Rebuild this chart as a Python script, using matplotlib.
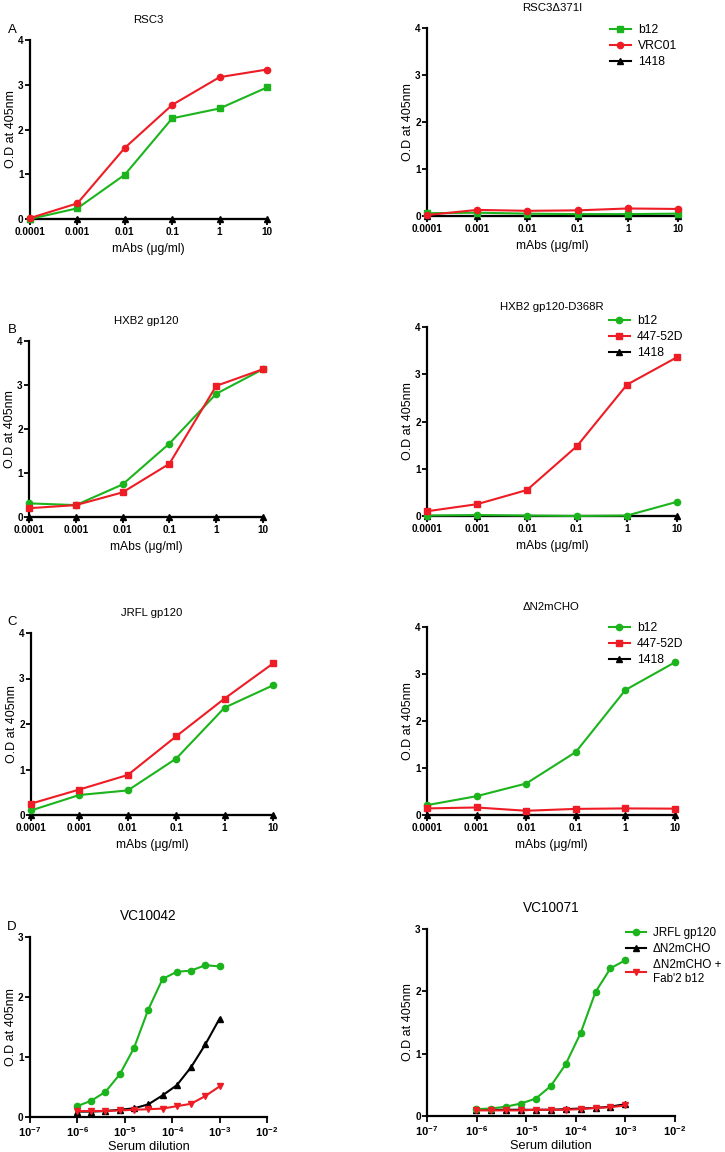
"""ELISA binding curves: mAbs and sera against RSC3 / gp120 variants."""
import numpy as np
import matplotlib
matplotlib.use("Agg")
from matplotlib import pyplot as plt
from matplotlib.ticker import FixedLocator, FuncFormatter, NullLocator

plt.rcParams["font.family"] = ["Liberation Sans", "DejaVu Sans"]
plt.rcParams["font.weight"] = "bold"
plt.rcParams["mathtext.fontset"] = "custom"
plt.rcParams["mathtext.bf"] = "Liberation Sans:bold"
plt.rcParams["mathtext.rm"] = "Liberation Sans"

GREEN = "#1cb41c"
RED = "#ee1c24"
BLACK = "#000000"

# mAb concentrations (ug/ml)
conc = [0.0001, 0.001, 0.01, 0.1, 1, 10]
conc_labels = ["0.0001", "0.001", "0.01", "0.1", "1", "10"]

# A: RSC3 / RSC3d371I
rsc3_b12 = [0.0, 0.24, 0.99, 2.25, 2.47, 2.94]
rsc3_vrc01 = [0.02, 0.35, 1.59, 2.55, 3.17, 3.34]
rsc3_1418 = [0, 0, 0, 0, 0, 0]
rsc3d_b12 = [0.06, 0.07, 0.05, 0.04, 0.04, 0.05]
rsc3d_vrc01 = [0.02, 0.13, 0.11, 0.12, 0.16, 0.15]
rsc3d_1418 = [0, 0, 0, 0, 0, 0]

# B: HXB2 gp120 / HXB2 gp120-D368R
hxb2_b12 = [0.31, 0.27, 0.74, 1.67, 2.80, 3.36]
hxb2_447 = [0.20, 0.27, 0.56, 1.21, 2.98, 3.36]
hxb2_1418 = [0, 0, 0, 0, 0, 0]
d368r_b12 = [0.01, 0.02, 0.01, 0.0, 0.01, 0.30]
d368r_447 = [0.10, 0.25, 0.55, 1.48, 2.78, 3.36]
d368r_1418 = [0, 0, 0, 0, 0, 0]

# C: JRFL gp120 / dN2mCHO
jrfl_b12 = [0.10, 0.44, 0.54, 1.24, 2.36, 2.85]
jrfl_447 = [0.25, 0.56, 0.88, 1.73, 2.56, 3.33]
jrfl_1418 = [0, 0, 0, 0, 0, 0]
dn2_b12 = [0.21, 0.40, 0.67, 1.34, 2.66, 3.25]
dn2_447 = [0.14, 0.16, 0.09, 0.13, 0.14, 0.135]
dn2_1418 = [0, 0, 0, 0, 0, 0]

# D: sera, two-fold dilutions
dilution = [9.765625e-7, 1.953125e-6, 3.90625e-6, 7.8125e-6, 1.5625e-5,
            3.125e-5, 6.25e-5, 1.25e-4, 2.5e-4, 5.0e-4, 1.0e-3]
vc42_jrfl = [0.18, 0.27, 0.42, 0.71, 1.15, 1.79, 2.30, 2.42, 2.44, 2.53, 2.51]
vc42_dn2 = [0.09, 0.09, 0.10, 0.12, 0.145, 0.21, 0.36, 0.53, 0.83, 1.21, 1.64]
vc42_fab = [0.10, 0.10, 0.10, 0.11, 0.12, 0.13, 0.14, 0.18, 0.22, 0.35, 0.51]
vc71_jrfl = [0.11, 0.12, 0.15, 0.20, 0.28, 0.48, 0.83, 1.33, 1.99, 2.37, 2.50]
vc71_dn2 = [0.10, 0.10, 0.10, 0.10, 0.10, 0.10, 0.11, 0.12, 0.13, 0.15, 0.19]
vc71_fab = [0.09, 0.09, 0.09, 0.09, 0.10, 0.10, 0.10, 0.11, 0.13, 0.14, 0.17]

W, H = 725, 1152
fig = plt.figure(figsize=(W / 100, H / 100), dpi=100)


def px_axes(left, top, right, bottom):
    return fig.add_axes([left / W, 1 - bottom / H, (right - left) / W, (bottom - top) / H])


def style(ax, title, ymax, title_size=8.2):
    for side in ("top", "right"):
        ax.spines[side].set_visible(False)
    for side in ("left", "bottom"):
        ax.spines[side].set_linewidth(1.6)
    ax.set_ylim(0, ymax)
    ax.set_yticks(range(ymax + 1))
    ax.tick_params(axis="y", width=1.3, length=3.5, labelsize=7.2, pad=1)
    ax.tick_params(axis="x", width=1.3, length=4, pad=2)
    ax.set_ylabel("O.D at 405nm", fontsize=9, labelpad=0.5)
    ax.set_title(title, fontsize=title_size, pad=12)


def plot_series(ax, x, series):
    for vals, color, marker, label in series:
        z = 3 if color == BLACK else 4
        ax.plot(x, vals, color=color, marker=marker, ms=4.5, lw=1.5,
                clip_on=False, label=label, zorder=z)


def mab_panel(rect, title, series):
    ax = px_axes(*rect)
    plot_series(ax, conc, series)
    ax.set_xscale("log")
    ax.set_xlim(1e-4, 10)
    ax.xaxis.set_major_locator(FixedLocator(conc))
    ax.xaxis.set_minor_locator(NullLocator())
    ax.set_xticklabels(conc_labels)
    ax.tick_params(axis="x", labelsize=7.2)
    ax.set_xlabel("mAbs (μg/ml)", fontsize=8.7, labelpad=4)
    style(ax, title, 4)
    return ax


def serum_panel(rect, title, series):
    ax = px_axes(*rect)
    plot_series(ax, dilution, series)
    ax.set_xscale("log")
    ax.set_xlim(1e-7, 1e-2)
    ax.xaxis.set_major_locator(FixedLocator([1e-7, 1e-6, 1e-5, 1e-4, 1e-3, 1e-2]))
    ax.xaxis.set_minor_locator(NullLocator())
    ax.xaxis.set_major_formatter(
        FuncFormatter(lambda v, p: r"$\mathbf{10^{%d}}$" % round(np.log10(v))))
    ax.tick_params(axis="x", labelsize=8)
    ax.set_xlabel("Serum dilution", fontsize=9.2, labelpad=1)
    style(ax, title, 3, title_size=9.8)
    return ax


def add_legend(ax, x_px, y_px, order=None, size=8.7):
    h, l = ax.get_legend_handles_labels()
    if order:
        h = [h[i] for i in order]
        l = [l[i] for i in order]
    ax.legend(h, l, loc="upper left", bbox_to_anchor=(x_px / W, 1 - y_px / H),
              bbox_transform=fig.transFigure, frameon=False, numpoints=1,
              prop={"size": size, "weight": "normal"}, borderpad=0,
              borderaxespad=0, handlelength=1.7, handletextpad=0.6,
              labelspacing=0.35)


mab_panel((30, 40, 267, 219), "RSC3", [
    (rsc3_1418, BLACK, "^", "1418"),
    (rsc3_b12, GREEN, "s", "b12"),
    (rsc3_vrc01, RED, "o", "VRC01"),
])
ax = mab_panel((427, 28, 678, 216), "RSC3Δ371I", [
    (rsc3d_1418, BLACK, "^", "1418"),
    (rsc3d_b12, GREEN, "s", "b12"),
    (rsc3d_vrc01, RED, "o", "VRC01"),
])
add_legend(ax, 610, 24, order=[1, 2, 0])

mab_panel((29, 341, 263, 517), "HXB2 gp120", [
    (hxb2_1418, BLACK, "^", "1418"),
    (hxb2_b12, GREEN, "o", "b12"),
    (hxb2_447, RED, "s", "447-52D"),
])
ax = mab_panel((427, 327, 677, 516), "HXB2 gp120-D368R", [
    (d368r_b12, GREEN, "o", "b12"),
    (d368r_447, RED, "s", "447-52D"),
    (d368r_1418, BLACK, "^", "1418"),
])
add_legend(ax, 609, 315)

mab_panel((31, 633, 273, 815), "JRFL gp120", [
    (jrfl_1418, BLACK, "^", "1418"),
    (jrfl_b12, GREEN, "o", "b12"),
    (jrfl_447, RED, "s", "447-52D"),
])
ax = mab_panel((427, 627, 675, 815), "ΔN2mCHO", [
    (dn2_b12, GREEN, "o", "b12"),
    (dn2_447, RED, "s", "447-52D"),
    (dn2_1418, BLACK, "^", "1418"),
])
add_legend(ax, 609, 622)

serum_panel((30, 937, 267, 1117), "VC10042", [
    (vc42_jrfl, GREEN, "o", "JRFL gp120"),
    (vc42_dn2, BLACK, "^", "ΔN2mCHO"),
    (vc42_fab, RED, "v", "ΔN2mCHO +\nFab'2 b12"),
])
ax = serum_panel((427, 929, 675, 1116), "VC10071", [
    (vc71_jrfl, GREEN, "o", "JRFL gp120"),
    (vc71_dn2, BLACK, "^", "ΔN2mCHO"),
    (vc71_fab, RED, "v", "ΔN2mCHO +\nFab'2 b12"),
])
add_legend(ax, 626, 927, size=8.4)

for letter, y in (("A", 30), ("B", 330), ("C", 622), ("D", 927)):
    fig.text(12 / W, 1 - y / H, letter, fontsize=9.5, fontweight="normal",
             ha="center", va="center")

fig.savefig("out.png", dpi=100)
